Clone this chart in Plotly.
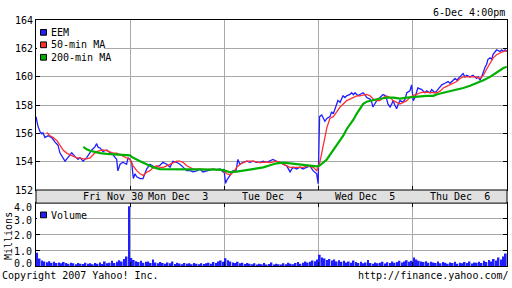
import plotly.graph_objects as go

# ---------------- data (minutes since Nov 30 open; 390 trading minutes per day) ----------------
day_labels = ["Fri\u00a0Nov\u00a030", "Mon\u00a0Dec\u00a0\u00a03", "Tue\u00a0Dec\u00a0\u00a04",
              "Wed\u00a0Dec\u00a0\u00a05", "Thu\u00a0Dec\u00a0\u00a06"]
day_breaks = [390, 780, 1170, 1560]
price_ticks = [152, 154, 156, 158, 160, 162, 164]
vol_ticks = [0, 1, 2, 3, 4]

eem_t_d1 = [0, 8, 17, 24, 29, 37, 50, 65, 79, 91, 99, 112, 120, 132, 148, 161, 174, 182, 195, 210,
            224, 231, 244, 251, 257, 265, 277, 293, 306, 319, 334, 339, 348, 360, 375, 381, 389]
eem_v_d1 = [157.19, 156.52, 156.11, 155.98, 156.05, 155.71, 155.84, 155.71, 155.39, 155.17,
            154.63, 154.29, 154.04, 154.29, 154.63, 154.38, 154.16, 154.29, 154.04, 154.29,
            154.63, 154.83, 155.05, 155.28, 155.03, 154.97, 154.72, 154.83, 154.63, 154.49,
            154.16, 153.35, 153.82, 153.96, 153.82, 154.29, 154.16]
eem_t_d2 = [396, 403, 410, 417, 431, 443, 458, 472, 484, 500, 513, 526, 541, 555, 567, 582, 596,
            609, 624, 638, 650, 665, 679, 691, 707, 720, 733, 748, 762, 774, 778]
eem_v_d2 = [153.96, 152.81, 153.15, 152.94, 152.81, 152.81, 153.48, 153.82, 153.69, 153.62,
            153.75, 153.96, 153.82, 153.62, 154.04, 153.96, 153.82, 153.62, 153.37, 153.37,
            153.28, 153.35, 153.48, 153.28, 153.35, 153.37, 153.48, 153.42, 153.48, 153.28, 153.48]
eem_t_d3 = [785, 790, 803, 816, 828, 836, 844, 857, 872, 886, 898, 914, 927, 940, 955, 969, 981,
            996, 1010, 1023, 1038, 1052, 1064, 1079, 1093, 1105, 1121, 1134, 1147, 1162, 1168]
eem_v_d3 = [152.47, 152.69, 153.03, 153.37, 153.35, 154.16, 153.82, 153.96, 154.04, 153.96,
            154.04, 153.96, 153.96, 154.04, 153.96, 154.04, 154.16, 154.02, 153.96, 153.82,
            153.71, 153.28, 153.62, 153.48, 153.62, 153.48, 153.62, 153.71, 153.37, 153.15, 152.45]
eem_t_d4 = [1174, 1183, 1189, 1196, 1204, 1217, 1224, 1231, 1245, 1250, 1259, 1266, 1271, 1279,
            1286, 1300, 1307, 1314, 1321, 1328, 1335, 1341, 1354, 1362, 1369, 1383, 1390, 1395,
            1403, 1411, 1424, 1437, 1445, 1452, 1457, 1466, 1473, 1478, 1486, 1493, 1500, 1507,
            1519, 1528, 1535, 1548, 1555, 1558]
eem_v_d4 = [157.19, 157.31, 157.12, 156.86, 157.06, 157.19, 157.53, 157.39, 158.09, 158.34,
            158.20, 158.43, 158.66, 158.54, 158.66, 158.76, 158.88, 158.74, 158.88, 158.76,
            158.68, 158.76, 158.88, 158.74, 158.54, 158.43, 158.20, 157.87, 158.09, 158.34,
            158.54, 158.76, 158.68, 158.43, 158.09, 157.87, 158.09, 158.34, 158.00, 157.75,
            158.09, 158.34, 158.20, 158.43, 158.88, 159.01, 159.44, 159.10]
eem_t_d5 = [1562, 1569, 1576, 1581, 1597, 1610, 1617, 1631, 1638, 1645, 1652, 1659, 1673, 1680,
            1693, 1706, 1714, 1726, 1735, 1742, 1755, 1762, 1768, 1776, 1783, 1797, 1809, 1817,
            1824, 1831, 1838, 1845, 1851, 1859, 1866, 1871, 1880, 1887, 1892, 1900, 1907, 1921,
            1928, 1934, 1942, 1949]
eem_v_d5 = [158.32, 158.54, 158.88, 159.22, 159.10, 158.88, 159.01, 158.88, 159.10, 159.01,
            158.88, 159.01, 159.33, 159.44, 159.55, 159.67, 159.55, 159.77, 159.89, 159.77,
            160.00, 160.11, 160.23, 160.00, 160.11, 160.00, 160.11, 160.00, 159.89, 160.00,
            159.77, 160.00, 160.34, 160.68, 160.90, 161.24, 161.35, 161.24, 161.58, 161.80,
            161.91, 161.80, 161.91, 161.80, 161.91, 161.80]

ma50_t = [44, 58, 70, 86, 99, 112, 127, 141, 153, 168, 182, 195, 210, 224, 236, 251, 265, 277,
          293, 306, 319, 334, 348, 360, 375, 389,
          402, 417, 431, 444, 458, 472, 486, 500, 513, 527, 541, 555, 569, 582, 596, 610, 624,
          638, 651, 679, 707, 734, 762, 775,
          790, 803, 817, 831, 845, 858, 872, 900, 927, 955, 969, 996, 1010, 1024, 1038, 1052,
          1079, 1107, 1121, 1148, 1162,
          1173, 1179, 1189, 1196, 1204, 1217, 1231, 1245, 1259, 1272, 1286, 1300, 1314, 1328,
          1341, 1355, 1369, 1383, 1397, 1411, 1424, 1438, 1452, 1466, 1479, 1493, 1507, 1521,
          1535, 1548,
          1562, 1576, 1590, 1603, 1617, 1631, 1659, 1673, 1686, 1700, 1714, 1728, 1742, 1755,
          1769, 1797, 1824, 1838, 1852, 1866, 1880, 1893, 1907, 1921, 1935, 1949]
ma50_v = [156.07, 155.84, 155.73, 155.51, 155.17, 154.83, 154.61, 154.49, 154.38, 154.27,
          154.27, 154.20, 154.20, 154.27, 154.49, 154.72, 154.78, 154.83, 154.78, 154.72,
          154.61, 154.61, 154.49, 154.38, 154.27, 154.16,
          153.71, 153.37, 153.15, 153.03, 153.26, 153.37, 153.60, 153.71, 153.60, 153.60,
          153.71, 153.82, 153.94, 154.04, 154.04, 153.94, 153.71, 153.60, 153.48, 153.48,
          153.44, 153.48, 153.44, 153.37,
          153.15, 153.08, 153.26, 153.60, 153.82, 153.94, 154.04, 154.04, 153.94, 153.98,
          153.94, 154.04, 153.94, 153.82, 153.71, 153.60, 153.60, 153.60, 153.71, 153.60, 153.37,
          153.82, 154.27, 155.05, 155.73, 156.40, 157.08, 157.19, 157.53, 157.87, 158.09,
          158.32, 158.43, 158.54, 158.66, 158.66, 158.70, 158.76, 158.66, 158.43, 158.32,
          158.32, 158.54, 158.66, 158.54, 158.32, 158.20, 158.09, 158.20, 158.32, 158.54,
          158.70, 158.76, 158.88, 158.93, 158.93, 158.88, 158.88, 158.99, 159.22, 159.33,
          159.44, 159.55, 159.67, 159.89, 160.00, 160.00, 160.00, 159.89, 160.11, 160.56,
          161.02, 161.35, 161.57, 161.69, 161.80, 161.84]

ma200_t = [196, 210, 224, 237, 251, 265, 293, 320, 348, 389,
           396, 410, 431, 458, 486, 513, 541, 596, 651, 707, 734, 762,
           782, 803, 831, 858, 886, 914, 941, 969, 996, 1024, 1052, 1079, 1107, 1134, 1162,
           1173, 1189, 1204, 1217, 1231, 1245, 1259, 1272, 1286, 1300, 1314, 1328, 1341, 1355,
           1369, 1383, 1397, 1411, 1424, 1438, 1452, 1479, 1507, 1535,
           1562, 1590, 1617, 1645, 1659, 1686, 1714, 1742, 1769, 1797, 1824, 1852, 1880, 1907,
           1935, 1949]
ma200_v = [155.05, 154.88, 154.78, 154.72, 154.65, 154.61, 154.56, 154.54, 154.49, 154.45,
           154.34, 154.20, 154.04, 153.82, 153.60, 153.48, 153.48, 153.48, 153.48, 153.48,
           153.44, 153.44,
           153.37, 153.26, 153.30, 153.37, 153.44, 153.48, 153.60, 153.75, 153.89, 153.94,
           153.89, 153.82, 153.75, 153.71, 153.67,
           153.71, 153.94, 154.16, 154.49, 154.83, 155.17, 155.51, 155.84, 156.30, 156.63,
           156.97, 157.41, 157.75, 158.09, 158.25, 158.32, 158.39, 158.43, 158.47, 158.49,
           158.54, 158.54, 158.47, 158.54,
           158.59, 158.61, 158.66, 158.66, 158.76, 158.88, 158.99, 159.10, 159.22, 159.37,
           159.55, 159.77, 160.00, 160.34, 160.63, 160.72]

# volume in millions, 10-minute buckets, 39 per day
vol_nov30 = [0.85, 0.48, 0.36, 0.30, 0.25, 0.32, 0.22, 0.28, 0.20, 0.24, 0.18, 0.26, 0.20, 0.15,
             0.22, 0.18, 0.12, 0.20, 0.16, 0.14, 0.22, 0.15, 0.18, 0.12, 0.20, 0.16, 0.24, 0.14,
             0.30, 0.18, 0.22, 0.34, 0.20, 0.28, 0.38, 0.30, 0.45, 0.62, 3.80]
vol_dec3 = [0.52, 0.40, 0.32, 0.26, 0.35, 0.22, 0.28, 0.30, 0.20, 0.42, 0.24, 0.18, 0.26, 0.20,
            0.16, 0.24, 0.19, 0.30, 0.14, 0.22, 0.17, 0.12, 0.20, 0.15, 0.18, 0.13, 0.21, 0.16,
            0.12, 0.19, 0.14, 0.18, 0.22, 0.15, 0.26, 0.20, 0.30, 0.36, 0.28]
vol_dec4 = [0.50, 0.38, 0.30, 0.24, 0.20, 0.28, 0.18, 0.22, 0.14, 0.20, 0.16, 0.12, 0.18, 0.10,
            0.15, 0.12, 0.20, 0.10, 0.14, 0.24, 0.11, 0.16, 0.13, 0.10, 0.18, 0.12, 0.22, 0.15,
            0.13, 0.20, 0.26, 0.16, 0.22, 0.30, 0.24, 0.28, 0.36, 0.32, 0.42]
vol_dec5 = [0.72, 0.55, 0.48, 0.40, 0.45, 0.36, 0.42, 0.30, 0.38, 0.28, 0.34, 0.24, 0.30, 0.22,
            0.36, 0.26, 0.20, 0.28, 0.18, 0.24, 0.40, 0.20, 0.16, 0.24, 0.18, 0.22, 0.28, 0.17,
            0.25, 0.20, 0.30, 0.22, 0.26, 0.34, 0.24, 0.30, 0.38, 0.28, 0.35]
vol_dec6 = [0.55, 0.42, 0.35, 0.30, 0.26, 0.32, 0.22, 0.28, 0.24, 0.20, 0.30, 0.18, 0.26, 0.22,
            0.16, 0.24, 0.20, 0.28, 0.15, 0.22, 0.18, 0.26, 0.20, 0.30, 0.17, 0.24, 0.22, 0.28,
            0.20, 0.34, 0.26, 0.40, 0.30, 0.45, 0.36, 0.55, 0.42, 0.62, 0.80]

# ---------------- assemble ----------------
eem_t = eem_t_d1 + eem_t_d2 + eem_t_d3 + eem_t_d4 + eem_t_d5
eem_v = eem_v_d1 + eem_v_d2 + eem_v_d3 + eem_v_d4 + eem_v_d5
vol_v = vol_nov30 + vol_dec3 + vol_dec4 + vol_dec5 + vol_dec6
vol_t = [d * 390 + 5 + 10 * i for d in range(5) for i in range(39)]

W, H = 512, 288
def px(x):
    return x / W
def py(y):
    return 1 - y / H

BLUE = "#1e1eff"
RED = "#ff3030"
GREEN = "#00b000"
GRID = "#a8a8a8"
FONT = "DejaVu Sans Mono"
X0, X1 = 36, 507
MAIN_TOP, MAIN_BOT = 15, 192
VOL_TOP, VOL_BOT = 205.7, 271.5

fig = go.Figure()
fig.add_trace(go.Scatter(x=eem_t, y=eem_v, mode="lines", line=dict(color=BLUE, width=1.3),
                         xaxis="x", yaxis="y", name="EEM"))
fig.add_trace(go.Scatter(x=ma50_t, y=ma50_v, mode="lines", line=dict(color=RED, width=1.3),
                         xaxis="x", yaxis="y", name="50-min MA"))
fig.add_trace(go.Scatter(x=ma200_t, y=ma200_v, mode="lines", line=dict(color=GREEN, width=2.2),
                         xaxis="x", yaxis="y", name="200-min MA"))
fig.add_trace(go.Bar(x=vol_t, y=vol_v, width=7, marker=dict(color=BLUE, line=dict(width=0)),
                     xaxis="x2", yaxis="y2", name="Volume"))

axis_common = dict(showgrid=True, gridcolor=GRID, gridwidth=1, zeroline=False,
                   showline=True, linecolor="black", linewidth=1,
                   ticks="inside", ticklen=4, tickcolor="black",
                   tickfont=dict(family=FONT, size=10, color="black"))

fig.update_layout(
    width=W, height=H, autosize=False,
    margin=dict(l=0, r=0, t=0, b=0),
    paper_bgcolor="white", plot_bgcolor="white",
    showlegend=False,
    xaxis=dict(domain=[px(X0), px(X1)], range=[0, 1950], tickvals=day_breaks,
               showticklabels=False, anchor="y", mirror=True, **axis_common),
    yaxis=dict(domain=[py(MAIN_BOT), py(MAIN_TOP)], range=[152, 164], tickvals=price_ticks,
               anchor="x", mirror="ticks", **axis_common),
    xaxis2=dict(domain=[px(X0), px(X1)], range=[0, 1950], tickvals=day_breaks,
                showticklabels=False, anchor="y2", mirror="ticks", **axis_common),
    yaxis2=dict(domain=[py(VOL_BOT), py(VOL_TOP)], range=[0, 4.0], tickvals=vol_ticks,
                showticklabels=False, anchor="x2", mirror="ticks", **axis_common),
)

shapes = []
# date band
shapes.append(dict(type="rect", xref="paper", yref="paper", x0=px(X0), x1=px(X1),
                   y0=py(VOL_TOP), y1=py(MAIN_BOT), fillcolor="#e0e0e0",
                   line=dict(color="black", width=1), layer="above"))
annotations = []

def txt(x, y, s, anchor="left", size=10, **kw):
    annotations.append(dict(x=px(x), y=py(y), xref="paper", yref="paper", text=s,
                            showarrow=False, xanchor=anchor, yanchor="middle",
                            font=dict(family=FONT, size=size, color="black"), **kw))

# legend (main)
legend_items = [("EEM", BLUE, 27.5), ("50-min\u00a0MA", RED, 40.5), ("200-min\u00a0MA", GREEN, 53.5)]
for label, col, yc in legend_items:
    wtxt = len(label) * 6.02
    shapes.append(dict(type="rect", xref="paper", yref="paper", x0=px(37), x1=px(50 + wtxt),
                       y0=py(yc + 6.5), y1=py(yc - 6.5), fillcolor="white",
                       line=dict(width=0), layer="above"))
    shapes.append(dict(type="rect", xref="paper", yref="paper", x0=px(40.5), x1=px(46.5),
                       y0=py(yc + 3), y1=py(yc - 3), fillcolor=col,
                       line=dict(color="black", width=1), layer="above"))
    txt(49, yc, label)

# legend (volume)
shapes.append(dict(type="rect", xref="paper", yref="paper", x0=px(37), x1=px(86),
                   y0=py(226), y1=py(212), fillcolor="white", line=dict(width=0), layer="above"))
shapes.append(dict(type="rect", xref="paper", yref="paper", x0=px(40.5), x1=px(46.5),
                   y0=py(221), y1=py(215), fillcolor=BLUE,
                   line=dict(color="black", width=1), layer="above"))
txt(49, 218.5, "Volume")

# day labels in the band
for lab, xc in zip(day_labels, [113, 177.5, 272, 365, 459.5]):
    txt(xc, 199, lab, anchor="center")

# volume axis labels
for v, yc in zip(vol_ticks, [269, 255.7, 239.5, 223.5, 210.7]):
    txt(33.5, yc, f"{v:.1f}", anchor="right")

txt(8, 240, "Millions", anchor="center", textangle=-90)
txt(507, 7, "6-Dec\u00a04:00pm", anchor="right")
txt(0, 281, "Copyright\u00a02007\u00a0Yahoo!\u00a0Inc.")
txt(511, 281, "http://finance.yahoo.com/", anchor="right")

fig.update_layout(shapes=shapes, annotations=annotations)
fig.write_html("out.html")
